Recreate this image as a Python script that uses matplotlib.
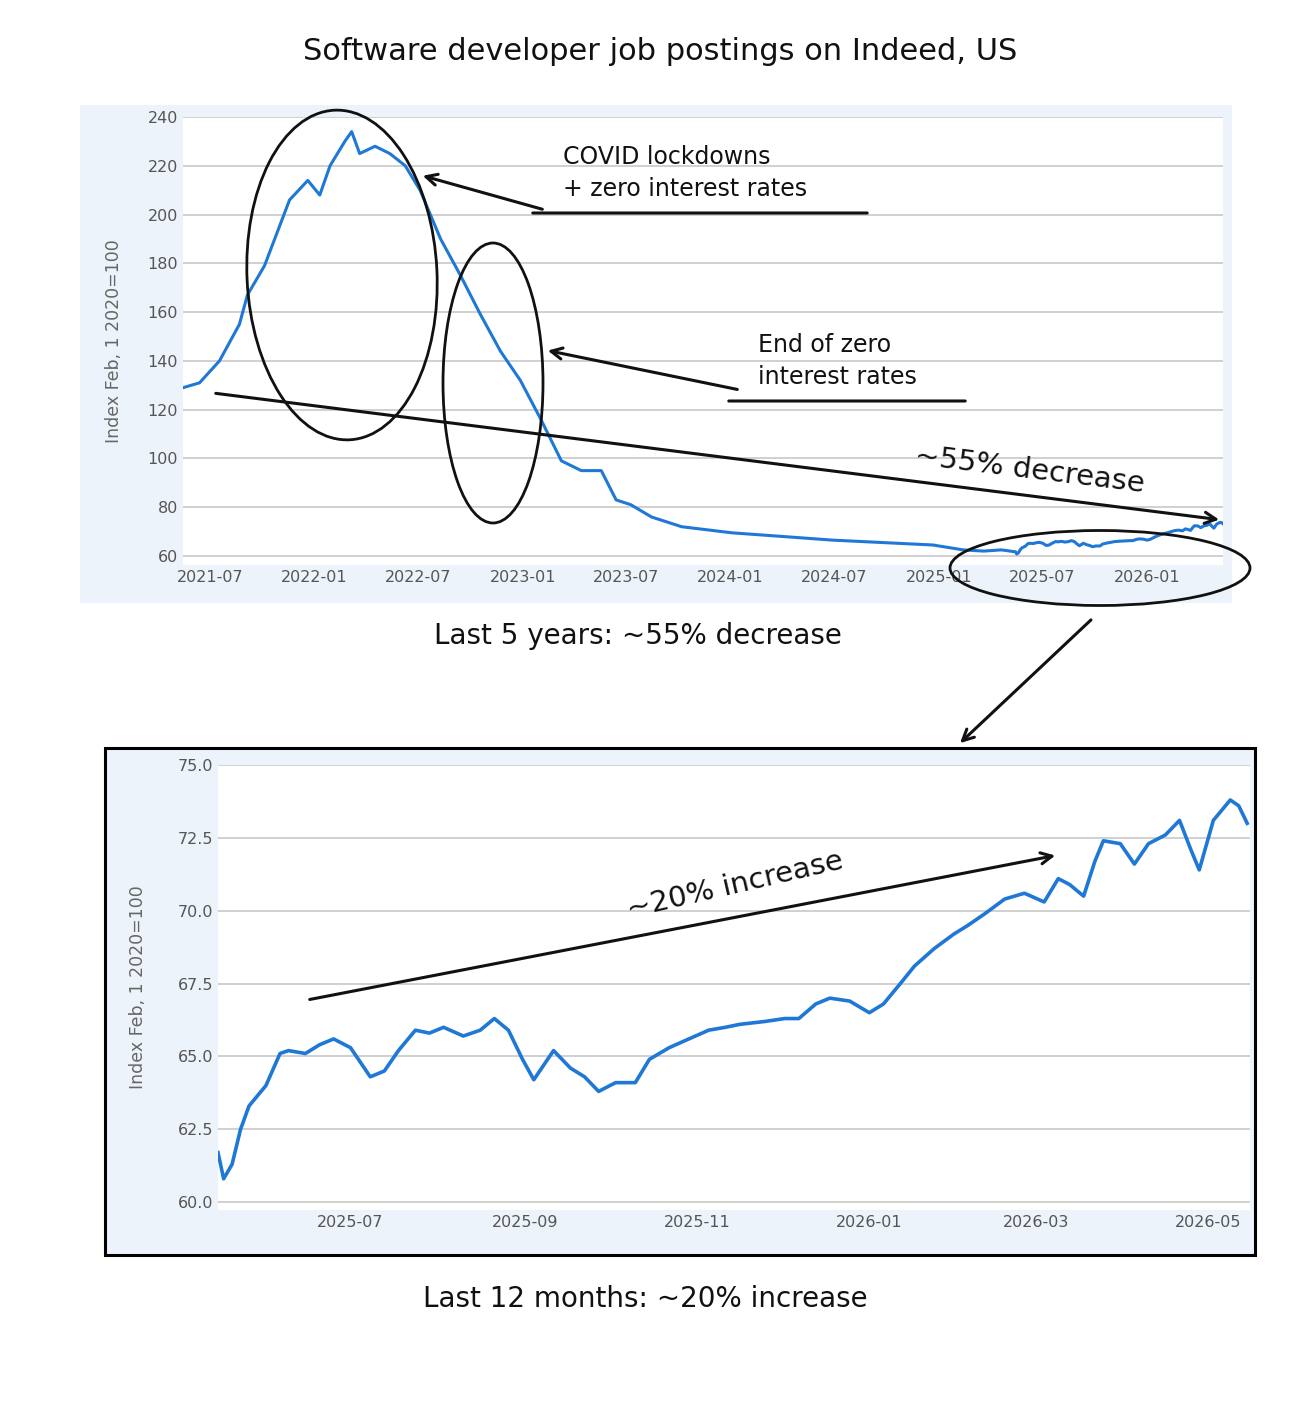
import matplotlib
matplotlib.use("Agg")
import matplotlib.pyplot as plt
from matplotlib.patches import Ellipse, Rectangle, FancyArrowPatch
import pandas as pd

W, H = 1310, 1410
top_dates = ["2021-05-15","2021-06-13","2021-07-18","2021-08-22","2021-09-05","2021-10-05","2021-11-18",
             "2021-12-20","2022-01-10","2022-01-28","2022-02-23","2022-03-07","2022-03-21","2022-04-17",
             "2022-05-13","2022-06-09","2022-07-05","2022-08-10","2022-09-14","2022-10-19","2022-11-23",
             "2022-12-28","2023-02-02","2023-03-10","2023-04-14","2023-05-19","2023-06-14","2023-07-10",
             "2023-08-15","2023-10-07","2024-01-03","2024-04-01","2024-06-28","2024-09-24","2024-12-21",
             "2025-02-12","2025-03-20","2025-04-20"]
top_vals = [129,131,140,155,167,179,206,214,208,220,230,234,225,228,225,220,210,190,175,159,144,
            132,116,99,95,95,83,81,76,72,69.5,68,66.5,65.5,64.5,62.5,62.0,62.5]

bot_dates = ["2025-05-15","2025-05-17","2025-05-20","2025-05-23","2025-05-26","2025-06-01","2025-06-06",
             "2025-06-09","2025-06-15","2025-06-20","2025-06-25","2025-07-01","2025-07-08","2025-07-13",
             "2025-07-18","2025-07-24","2025-07-29","2025-08-03","2025-08-10","2025-08-16","2025-08-21",
             "2025-08-26","2025-08-31","2025-09-04","2025-09-11","2025-09-17","2025-09-22","2025-09-27",
             "2025-10-03","2025-10-10","2025-10-15","2025-10-22","2025-10-29","2025-11-05","2025-11-11",
             "2025-11-16","2025-11-25","2025-12-02","2025-12-07","2025-12-13","2025-12-18","2025-12-25",
             "2026-01-01","2026-01-06","2026-01-12","2026-01-17","2026-01-24","2026-01-31","2026-02-05",
             "2026-02-11","2026-02-18","2026-02-25","2026-03-04","2026-03-09","2026-03-13","2026-03-18",
             "2026-03-22","2026-03-25","2026-03-31","2026-04-05","2026-04-10","2026-04-16","2026-04-21",
             "2026-04-25","2026-04-28","2026-05-03","2026-05-09","2026-05-12","2026-05-15"]
bot_vals = [61.7,60.8,61.3,62.5,63.3,64.0,65.1,65.2,65.1,65.4,65.6,65.3,64.3,64.5,65.2,65.9,65.8,66.0,
            65.7,65.9,66.3,65.9,64.9,64.2,65.2,64.6,64.3,63.8,64.1,64.1,64.9,65.3,65.6,65.9,66.0,66.1,
            66.2,66.3,66.3,66.8,67.0,66.9,66.5,66.8,67.5,68.1,68.7,69.2,69.5,69.9,70.4,70.6,70.3,71.1,
            70.9,70.5,71.7,72.4,72.3,71.6,72.3,72.6,73.1,72.1,71.4,73.1,73.8,73.6,73.0]

top_ticks = ["2021-07","2022-01","2022-07","2023-01","2023-07","2024-01","2024-07","2025-01","2025-07","2026-01"]
bot_ticks = ["2025-07","2025-09","2025-11","2026-01","2026-03","2026-05"]

fig = plt.figure(figsize=(W/100, H/100), dpi=100)
fig.patch.set_facecolor("white")
def fx(x): return x/W
def fy(y): return 1 - y/H
LINE = "#1f78d6"
PANEL = "#edf3fb"
FONT = "DejaVu Sans"

fig.patches.append(Rectangle((fx(80), fy(603)), fx(1232)-fx(80), fy(105)-fy(603),
                             transform=fig.transFigure, facecolor=PANEL, edgecolor="none", zorder=-5))
fig.patches.append(Rectangle((fx(105), fy(1255)), fx(1255)-fx(105), fy(748)-fy(1255),
                             transform=fig.transFigure, facecolor=PANEL, edgecolor="black", lw=2.2, zorder=-5))

def style(ax):
    ax.set_facecolor("white")
    for s in ax.spines.values(): s.set_visible(False)
    ax.grid(axis="y", color="#c8c8c8", lw=1.2)
    ax.set_axisbelow(True)
    ax.tick_params(length=0, labelsize=11.5, colors="#555555")
    ax.set_ylabel("Index Feb, 1 2020=100", fontsize=12.5, color="#666666")

ax1 = fig.add_axes([fx(183), fy(565), fx(1223)-fx(183), fy(117)-fy(565)])
style(ax1)
ax1.plot(pd.to_datetime(top_dates + bot_dates), top_vals + bot_vals, color=LINE, lw=2.2)
ax1.set_ylim(56.3, 240)
ax1.set_yticks(range(60, 241, 20))
ax1.set_xlim(pd.Timestamp("2021-05-15"), pd.Timestamp("2026-05-14"))
ax1.set_xticks(pd.to_datetime([t + "-01" for t in top_ticks]))
ax1.set_xticklabels(top_ticks)
ax1.yaxis.labelpad = 18

ax2 = fig.add_axes([fx(218), fy(1210), fx(1250)-fx(218), fy(765)-fy(1210)])
style(ax2)
ax2.plot(pd.to_datetime(bot_dates), bot_vals, color=LINE, lw=2.6)
ax2.set_ylim(59.73, 75)
ax2.set_yticks([60, 62.5, 65, 67.5, 70, 72.5, 75])
ax2.set_yticklabels(["60.0","62.5","65.0","67.5","70.0","72.5","75.0"])
ax2.set_xlim(pd.Timestamp("2025-05-15"), pd.Timestamp("2026-05-16"))
ax2.set_xticks(pd.to_datetime([t + "-01" for t in bot_ticks]))
ax2.set_xticklabels(bot_ticks)
ax2.yaxis.labelpad = 22

def ell(cx, cy, w, h, ang=0):
    fig.patches.append(Ellipse((fx(cx), fy(cy)), w/W, h/H, angle=ang, transform=fig.transFigure,
                               fill=False, edgecolor="#111111", lw=2, zorder=10))
def arrow(x0, y0, x1, y1, head=True):
    fig.patches.append(FancyArrowPatch((fx(x0), fy(y0)), (fx(x1), fy(y1)), transform=fig.transFigure,
                       arrowstyle="->,head_length=8,head_width=4" if head else "-",
                       color="#111111", lw=2.2, zorder=10))
def txt(x, y, s, size, rot=0, ha="center"):
    fig.text(fx(x), fy(y), s, fontsize=size, ha=ha, va="center", rotation=rot, family=FONT,
             color="#111111", zorder=11, linespacing=1.4)

ell(342, 275, 190, 330, 3)
ell(493, 383, 100, 280, 0)
ell(1100, 568, 300, 75, 0)
arrow(545, 210, 420, 175)
arrow(530, 213, 870, 213, head=False)
arrow(740, 390, 545, 350)
arrow(726, 401, 968, 401, head=False)
arrow(213, 393, 1222, 520)
arrow(1093, 618, 958, 745)
arrow(307, 1000, 1058, 855)

txt(660, 52, "Software developer job postings on Indeed, US", 22)
txt(563, 173, "COVID lockdowns\n+ zero interest rates", 17, ha="left")
txt(758, 361, "End of zero\ninterest rates", 17, ha="left")
txt(1030, 470, "~55% decrease", 21, rot=-7)
txt(638, 636, "Last 5 years: ~55% decrease", 20)
txt(735, 885, "~20% increase", 21, rot=13)
txt(645, 1299, "Last 12 months: ~20% increase", 20)

fig.savefig("out.png", dpi=100, facecolor="white")
